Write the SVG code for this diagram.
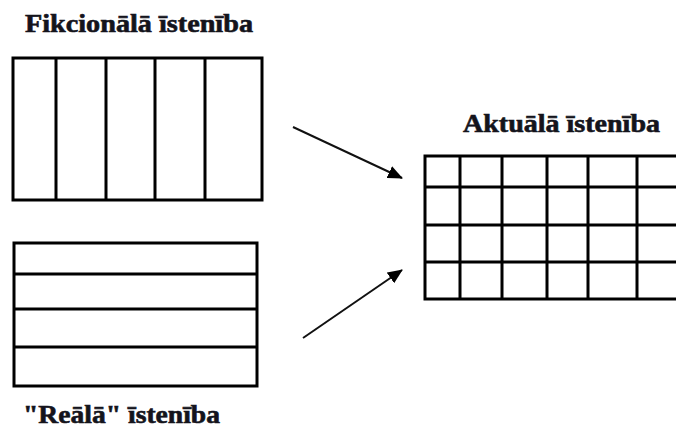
<svg xmlns="http://www.w3.org/2000/svg" width="676" height="427" viewBox="0 0 676 427">
<style>
.lbl{font-family:"Liberation Serif","Times New Roman",serif;font-weight:bold;font-size:25px;fill:#14141c;stroke:#14141c;stroke-width:0.6}
.box{fill:#fff;stroke:#000;stroke-width:3}
.ln{stroke:#000;stroke-width:3;fill:none}
.arr{stroke:#111;stroke-width:2;fill:none;marker-end:url(#ah)}
</style>
<defs>
<marker id="ah" markerWidth="15" markerHeight="13" refX="14" refY="6.5" orient="auto" markerUnits="userSpaceOnUse">
<path d="M0,0 L15,6.5 L0,13 Z" fill="#000"/>
</marker>
</defs>
<rect width="676" height="427" fill="#fff"/>
<g id="fikcionala">
<text class="lbl" x="25" y="32" textLength="228" lengthAdjust="spacingAndGlyphs">Fikcionālā īstenība</text>
<rect class="box" x="13" y="58" width="249" height="142"/>
<path class="ln" d="M56,58V200M106,58V200M155,58V200M205,58V200"/>
</g>
<g id="reala">
<rect class="box" x="14" y="243" width="243" height="143"/>
<path class="ln" d="M14,274H257M14,309H257M14,347H257"/>
<text class="lbl" x="23" y="423" textLength="197" lengthAdjust="spacingAndGlyphs">"Reālā" īstenība</text>
</g>
<g id="aktuala">
<text class="lbl" x="463" y="132" textLength="197" lengthAdjust="spacingAndGlyphs">Aktuālā īstenība</text>
<rect class="box" x="425" y="156" width="265" height="143"/>
<path class="ln" d="M460,156V299M502,156V299M547,156V299M588,156V299M637,156V299M425,187H690M425,225H690M425,262H690"/>
</g>
<g id="connectors">
<line class="arr" x1="293" y1="127" x2="402" y2="178"/>
<line class="arr" x1="303" y1="338" x2="402" y2="270"/>
</g>
</svg>
